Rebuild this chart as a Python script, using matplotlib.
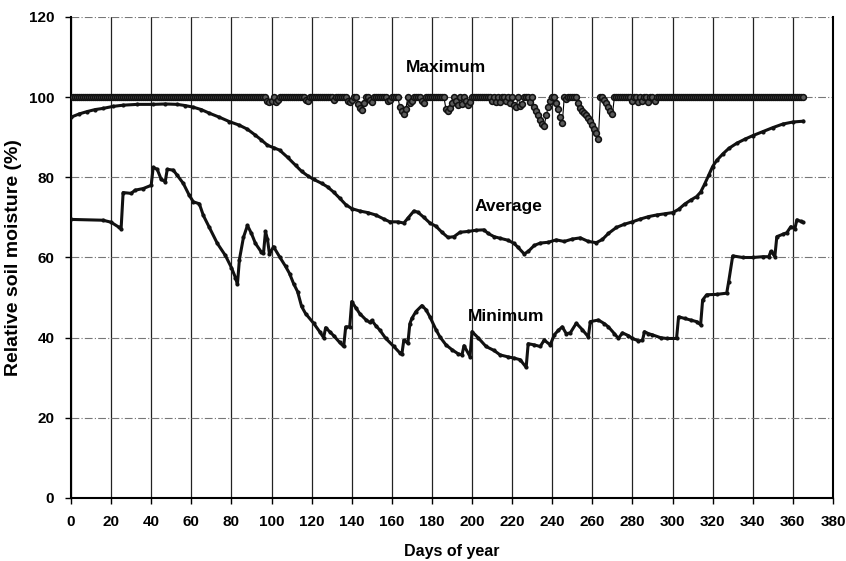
import numpy as np
import matplotlib
matplotlib.use("Agg")
import matplotlib.pyplot as plt

plt.rcParams['font.family'] = ['Liberation Sans', 'DejaVu Sans']
plt.rcParams['font.weight'] = 'bold'

# === Data (day of year, relative soil moisture %) ===
min_days = [0, 16, 20, 24, 25, 26, 30, 32, 36, 40, 41, 43, 45, 47, 48, 51, 53, 56, 59, 61,
            64, 66, 69, 73, 77, 80, 82, 83, 84, 86, 88, 90, 92, 95, 96, 97, 98, 99, 101, 104,
            107, 109, 111, 113, 115, 117, 121, 124, 126, 127, 129, 131, 134, 136, 137, 139, 140, 142, 144, 147,
            149, 150, 152, 154, 157, 161, 164, 165, 166, 168, 169, 170, 172, 175, 177, 179, 182, 184, 187, 190,
            193, 195, 196, 199, 200, 203, 207, 211, 214, 218, 221, 224, 227, 228, 231, 234, 236, 239, 241, 243,
            245, 247, 249, 252, 255, 258, 259, 263, 266, 268, 271, 273, 275, 278, 280, 283, 285, 286, 288, 290,
            294, 297, 302, 303, 306, 309, 312, 314, 315, 317, 322, 327, 328, 330, 335, 340, 345, 348, 349, 350,
            351, 352, 355, 357, 359, 361, 362, 364, 365]
min_vals = [69.5, 69.3, 68.8, 67.5, 67.2, 76.2, 76.0, 76.8, 77.2, 78.0, 82.5, 82.0, 79.5, 78.9, 82.0, 81.8, 80.5, 78.5, 75.5, 73.9,
            73.4, 70.5, 67.5, 63.5, 60.5, 57.5, 55.0, 53.3, 59.5, 65.0, 68.0, 66.0, 63.5, 61.3, 61.0, 66.5, 64.5, 60.8, 62.7, 60.2,
            57.8, 56.0, 53.5, 51.5, 47.8, 46.0, 43.6, 41.5, 40.0, 42.5, 41.5, 40.5, 38.8, 37.8, 42.7, 42.7, 49.0, 47.5, 46.0, 44.5,
            43.8, 44.3, 43.0, 41.9, 39.8, 37.8, 36.2, 35.9, 39.4, 38.6, 43.5, 44.8, 46.5, 48.0, 47.0, 45.2, 42.0, 40.2, 38.2, 37.0,
            36.0, 35.7, 38.0, 35.3, 41.5, 40.0, 37.8, 36.8, 35.7, 35.2, 34.9, 34.5, 32.6, 38.5, 38.2, 37.8, 39.4, 38.2, 40.7, 41.8,
            42.7, 41.0, 41.2, 43.6, 42.0, 40.2, 44.0, 44.4, 43.5, 42.7, 41.0, 39.8, 41.2, 40.5, 39.8, 39.2, 39.3, 41.5, 41.0, 40.7,
            40.0, 39.8, 39.8, 45.2, 44.8, 44.4, 44.0, 43.2, 49.4, 50.7, 50.8, 51.1, 54.0, 60.4, 60.0, 60.0, 60.2, 60.2, 61.5, 61.0,
            60.2, 65.2, 65.8, 66.2, 67.7, 67.2, 69.4, 69.0, 68.8]

avg_days = [0, 4, 8, 12, 16, 21, 26, 33, 41, 47, 53, 57, 61, 65, 69, 74, 79, 84, 88, 92,
            95, 98, 101, 104, 108, 112, 115, 118, 121, 125, 128, 131, 134, 137, 140, 144, 148, 152, 156, 159,
            163, 166, 168, 171, 173, 176, 179, 182, 185, 188, 191, 194, 198, 202, 206, 208, 211, 214, 218, 221,
            223, 226, 228, 231, 234, 238, 242, 246, 250, 254, 258, 262, 265, 268, 272, 276, 280, 284, 288, 292,
            296, 300, 303, 306, 309, 312, 314, 316, 318, 320, 322, 325, 328, 332, 336, 340, 345, 350, 355, 360, 365]
avg_vals = [95.0, 95.8, 96.4, 96.9, 97.2, 97.7, 98.0, 98.2, 98.2, 98.3, 98.2, 97.9, 97.5, 96.9, 96.0, 95.0, 93.9, 93.0, 92.0, 90.5,
            89.3, 88.0, 87.4, 86.8, 85.0, 83.0, 81.5, 80.4, 79.5, 78.5, 77.6, 76.3, 74.8, 73.2, 72.2, 71.6, 71.2, 70.6, 69.6, 68.9,
            68.9, 68.6, 69.8, 71.6, 71.3, 70.0, 68.6, 67.8, 66.3, 65.0, 65.2, 66.3, 66.5, 66.8, 66.9, 66.0, 65.2, 64.8, 64.3, 63.5,
            62.5, 60.9, 61.5, 63.0, 63.6, 63.8, 64.4, 64.0, 64.6, 64.9, 64.0, 63.7, 64.5, 66.0, 67.5, 68.3, 68.9, 69.6, 70.2, 70.6,
            70.9, 71.2, 72.0, 73.3, 74.3, 75.2, 76.3, 78.3, 80.5, 82.7, 84.2, 85.8, 87.2, 88.5, 89.5, 90.4, 91.4, 92.4, 93.3, 93.8, 94.0]

# Maximum sits at 100 % every day except these days
max_days = list(range(1, 366))
max_dips = {98: 99, 99: 98.8, 100: 99, 102: 98.8, 103: 99.2, 117: 99.2, 118: 99, 131: 99.2,
            138: 99, 139: 98.8, 140: 99.2, 143: 98.4, 144: 97.2, 145: 96.8, 146: 98.5, 149: 99.2,
            150: 98.8, 158: 99, 159: 99.2, 164: 97.5, 165: 96.5, 166: 95.8, 167: 97, 169: 98.6,
            170: 99, 175: 99, 176: 98.5, 187: 97, 188: 96.6, 189: 97.2, 190: 98.5, 192: 99,
            193: 98, 195: 98.2, 197: 99, 198: 98, 199: 98.7, 210: 99, 212: 98.7, 214: 98.8,
            217: 99, 219: 98.5, 221: 98, 222: 97.5, 224: 97.8, 225: 98.3, 229: 98.8, 231: 97.5,
            232: 96.5, 233: 95.5, 234: 94.3, 235: 93.2, 236: 92.9, 237: 95.5, 238: 97.5, 239: 99,
            242: 98.5, 243: 97, 244: 95, 245: 93.5, 247: 99.5, 253: 98.5, 254: 97.2, 255: 96.5,
            256: 96, 257: 95.5, 258: 94.8, 259: 94, 260: 93, 261: 92, 262: 91, 263: 89.5,
            266: 99.3, 267: 98.5, 268: 97.6, 269: 96.5, 270: 95.7, 280: 99, 283: 98.8, 285: 99,
            288: 98.8, 291: 99}
max_vals = [max_dips.get(d, 100) for d in max_days]

labels = {"Maximum": (187, 107.3), "Average": (218, 72.6), "Minimum": (217, 45.4)}

# === Plotting ===
fig = plt.figure(figsize=(8.46, 5.61), dpi=100)
ax = fig.add_axes([0.0839, 0.1123, 0.9007, 0.8574])

ax.plot(max_days, max_vals, color='black', lw=0.8, marker='o', ms=4.2,
        mfc='#5a5a5a', mec='#111111', mew=1.1, zorder=3)
ax.plot(avg_days, avg_vals, color='#111111', lw=2.2, marker='o', ms=2.0, zorder=3)
ax.plot(min_days, min_vals, color='#111111', lw=2.2, marker='o', ms=2.0, zorder=3)

for txt, (x, y) in labels.items():
    ax.text(x, y, txt, ha='center', va='center', fontsize=12.5, fontweight='bold')

ax.set_xlim(0, 380)
ax.set_ylim(0, 120)
ax.set_xticks(np.arange(0, 381, 20))
ax.set_yticks(np.arange(0, 121, 20))
ax.tick_params(direction='out', length=4, width=1, pad=8, labelsize=11)
for lab in ax.get_xticklabels() + ax.get_yticklabels():
    lab.set_fontweight('bold')

ax.xaxis.grid(True, color='#222222', lw=0.9, ls='-')
ax.yaxis.grid(True, color='#777777', lw=0.8, ls=(0, (7, 2, 1, 2)))
ax.set_axisbelow(True)

for side in ['left', 'bottom', 'right']:
    ax.spines[side].set_linewidth(1.5)
ax.spines['top'].set_visible(False)

ax.set_xlabel("Days of year", fontsize=11.5, fontweight='bold', labelpad=11)
ax.set_ylabel("Relative soil moisture (%)", fontsize=14, fontweight='bold', labelpad=5)

fig.savefig("out.png", dpi=100)
